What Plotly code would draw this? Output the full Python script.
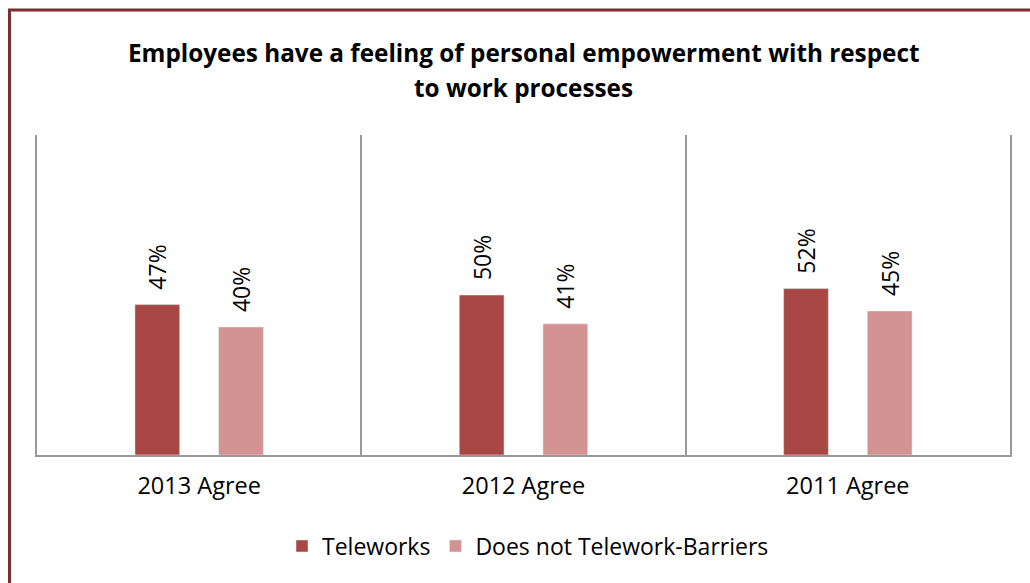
import plotly.graph_objects as go

categories = ["2013 Agree", "2012 Agree", "2011 Agree"]
teleworks = [0.47, 0.50, 0.52]
not_telework = [0.40, 0.41, 0.45]
title_lines = ["Employees have a feeling of personal empowerment with respect",
               "to work processes"]

W, H = 1030, 583
ML, MR, MT, MB = 37, 20, 135, 128
PW, PH = W - ML - MR, H - MT - MB

FONT = "Open Sans"
DARK = "#A94744"
LIGHT = "#D39392"
GRID = "#999999"

fig = go.Figure()
for name, vals, color in [("Teleworks", teleworks, DARK),
                          ("Does not Telework-Barriers", not_telework, LIGHT)]:
    fig.add_trace(go.Bar(
        name=name, x=categories, y=vals, marker_color=color,
        text=[f"{v:.0%}" for v in vals], texttemplate="  %{text}",
        textposition="outside", textangle=-90, cliponaxis=False,
        constraintext="none",
        textfont=dict(family=FONT, size=23, color="#000000"),
    ))

# pixel -> paper coordinate helpers
px = lambda p: (p - ML) / PW
py = lambda p: 1 - (p - MT) / PH

# outer frame of the chart area (only left/top edges fall inside the canvas)
fig.add_shape(type="rect", xref="paper", yref="paper",
              x0=px(9.5), x1=px(W + 20), y0=py(H + 20), y1=py(10),
              line=dict(color="#7A2E2E", width=3), fillcolor="rgba(0,0,0,0)", layer="below")

# two-line bold title
for line, ypix in zip(title_lines, [52, 87]):
    fig.add_annotation(
        text=f"<b>{line}</b>", xref="paper", yref="paper", x=0.5, y=py(ypix),
        xanchor="center", yanchor="middle", showarrow=False,
        font=dict(family=FONT, size=24.3, color="#000000"),
    )

fig.update_layout(
    width=W, height=H,
    margin=dict(l=ML, r=MR, t=MT, b=MB),
    paper_bgcolor="white", plot_bgcolor="white",
    barmode="group", bargap=0.484, bargroupgap=0.465,
    uniformtext=dict(mode=False),
    xaxis=dict(
        type="category", tickson="boundaries", ticks="", showgrid=True,
        gridcolor=GRID, gridwidth=2, showline=True, linecolor=GRID, linewidth=2,
        tickfont=dict(family=FONT, size=23.5, color="#000000"), ticklabelstandoff=9,
    ),
    yaxis=dict(
        range=[0, 1], showticklabels=False, ticks="", showgrid=False,
        zeroline=False, showline=True, mirror=True, linecolor=GRID, linewidth=2,
    ),
    legend=dict(
        orientation="h", x=px(528), xanchor="center", xref="paper",
        y=py(546), yanchor="middle",
        font=dict(family=FONT, size=23, color="#000000"),
        itemwidth=30, traceorder="normal",
    ),
)

fig.write_html("out.html")
